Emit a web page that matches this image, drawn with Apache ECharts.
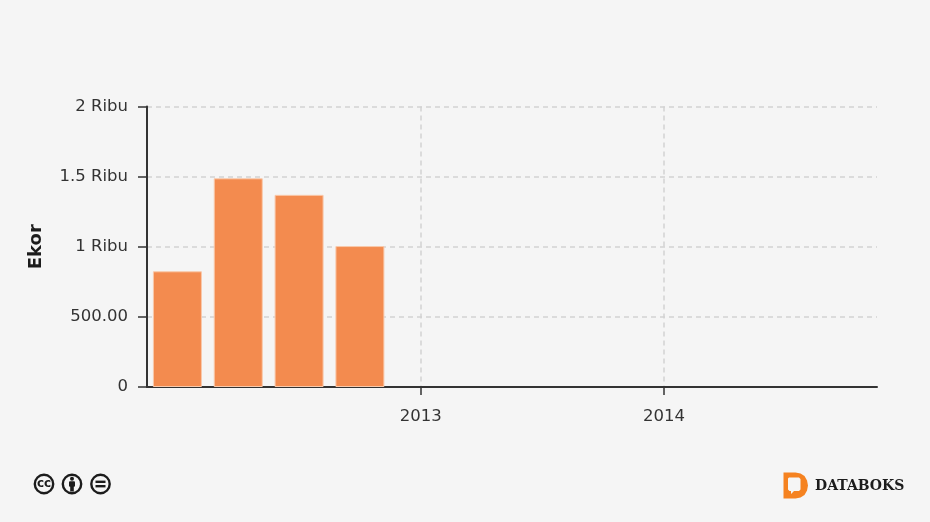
<!DOCTYPE html>
<html>
<head>
<meta charset="utf-8">
<style>html,body{margin:0;padding:0;background:#f5f5f5}#c{width:930px;height:522px}</style>
<script src="https://cdn.jsdelivr.net/npm/echarts@6/dist/echarts.min.js"></script>
</head>
<body>
<div id="c"></div>
<script>
const periods = ['2012 Q1','2012 Q2','2012 Q3','2012 Q4','2013 Q1','2013 Q2','2013 Q3','2013 Q4','2014 Q1','2014 Q2','2014 Q3','2014 Q4'];
const ekorValues = [825, 1488, 1370, 1005, null, null, null, null, null, null, null, null];
const yearTicks = {'2013 Q1':'2013','2014 Q1':'2014'};
const yTickLabels = {0:'0',500:'500.00',1000:'1 Ribu',1500:'1.5 Ribu',2000:'2 Ribu'};
const yAxisName = 'Ekor';
const brandName = 'DATABOKS';

const font = '"DejaVu Sans", sans-serif';
const isYearTick = (i) => yearTicks[periods[i]] !== undefined;
const gridLine = {color:'#d2d2d2', type:[5,4], width:1.5};
const chart = echarts.init(document.getElementById('c'), null, {renderer:'canvas'});
const dark = '#1c1c1c';
function ccBadge(cx, children){
  return {type:'group', x:cx, y:484, children:[
    {type:'circle', shape:{cx:0,cy:0,r:9.2}, style:{fill:'#f5f5f5',stroke:dark,lineWidth:2.4}}
  ].concat(children)};
}
chart.setOption({
  animation:false,
  backgroundColor:'#f5f5f5',
  grid:{left:147,right:53,top:106.5,bottom:135,containLabel:false},
  xAxis:{
    type:'category', data:periods, boundaryGap:true,
    axisLine:{show:true,onZero:false,lineStyle:{color:'#333',width:2}},
    axisTick:{show:true,alignWithLabel:true,length:8,lineStyle:{color:'#333',width:1.5},interval:(i)=>isYearTick(i)},
    axisLabel:{interval:(i)=>isYearTick(i),formatter:(v)=>yearTicks[v]||'',color:'#333',fontFamily:font,fontSize:16.5,margin:21},
    splitLine:{show:true,alignWithLabel:true,interval:(i)=>isYearTick(i),lineStyle:gridLine}
  },
  yAxis:{
    type:'value', min:0, max:2000, interval:500,
    name:yAxisName, nameLocation:'middle', nameGap:102, nameRotate:90,
    nameTextStyle:{fontFamily:font,fontWeight:'bold',fontSize:18,color:'#1c1c1c'},
    axisLine:{show:true,lineStyle:{color:'#333',width:2}},
    axisTick:{show:true,length:9,lineStyle:{color:'#333',width:1.5}},
    axisLabel:{formatter:(v)=>yTickLabels[v],color:'#333',fontFamily:font,fontSize:16.5,margin:19,padding:[3,0,0,0]},
    splitLine:{show:true,lineStyle:gridLine}
  },
  series:[{
    type:'bar', data:ekorValues, barWidth:49,
    itemStyle:{color:'#f38b4f',borderColor:'#f9c9ab',borderWidth:1},
    z:3
  }],
  graphic:[
    ccBadge(44,[
      {type:'text',x:0,y:0,style:{text:'cc',fontFamily:'"DejaVu Sans"',fontWeight:'bold',fontSize:12,fill:dark,align:'center',verticalAlign:'middle'}}
    ]),
    ccBadge(72,[
      {type:'circle',shape:{cx:0,cy:-5.2,r:2},style:{fill:dark}},
      {type:'rect',shape:{x:-3,y:-2.8,width:6,height:5.5,r:1},style:{fill:dark}},
      {type:'rect',shape:{x:-1.8,y:2,width:3.6,height:5.5},style:{fill:dark}}
    ]),
    ccBadge(100.5,[
      {type:'rect',shape:{x:-5,y:-3.4,width:10,height:2.4},style:{fill:dark}},
      {type:'rect',shape:{x:-5,y:1,width:10,height:2.4},style:{fill:dark}}
    ]),
    {type:'group',x:783.5,y:472.5,children:[
      {type:'polygon',shape:{points:[[0,0],[12,0],[17,1],[21,3.5],[23.5,8],[24.5,13],[23.5,18],[21,22.5],[17,25],[12,26],[0,26]]},style:{fill:'#f58220'}},
      {type:'polygon',shape:{points:[[5.5,5],[15.5,5],[17,6.5],[17,17],[15.5,18.5],[10.5,18.5],[7.5,21.5],[7.5,18.5],[6,18.5],[4.5,17],[4.5,6]]},style:{fill:'#f5f5f5'}}
    ]},
    {type:'text',x:815,y:486,style:{text:brandName,fontFamily:'"DejaVu Serif"',fontWeight:'bold',fontSize:14,fill:'#1c1c1c',verticalAlign:'middle'}}
  ]
});
</script>
</body>
</html>
